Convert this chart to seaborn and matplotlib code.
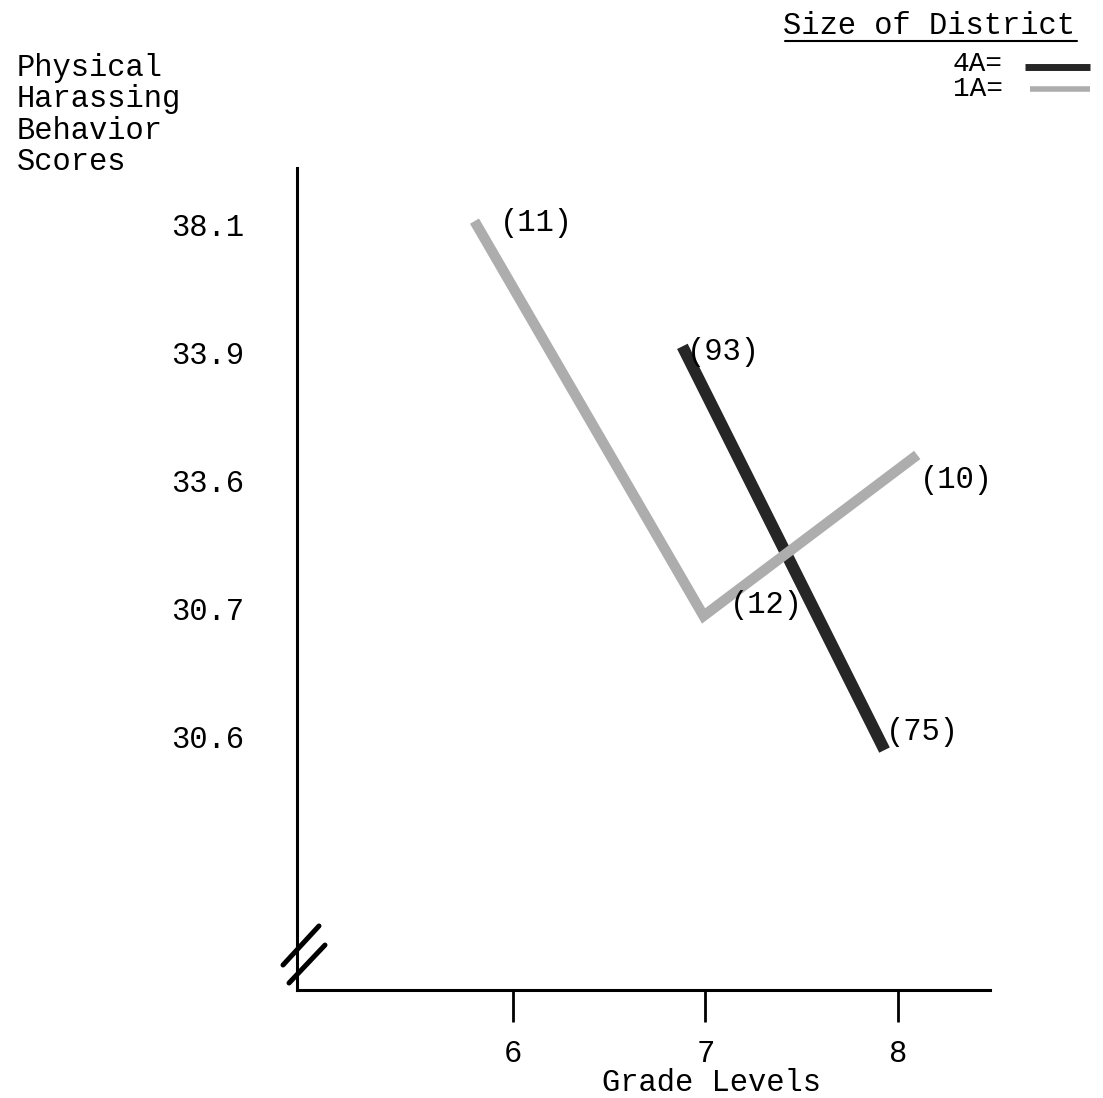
import matplotlib
matplotlib.use("Agg")
import matplotlib.pyplot as plt
from matplotlib.lines import Line2D
import pandas as pd
import seaborn as sns

# y axis is not linear: the printed scores sit at equally spaced levels (bottom to top)
SCORE_LABELS = ["30.6", "30.7", "33.6", "33.9", "38.1"]
GRADE_TICKS = [6, 7, 8]

# 1A districts
GRADE_1A = [5.80, 6.99, 8.10]
LEVEL_1A = [4.03, 0.94, 2.20]
N_1A = ["(11)", "(12)", "(10)"]

# 4A districts
GRADE_4A = [6.88, 7.93]
LEVEL_4A = [3.05, -0.11]
N_4A = ["(93)", "(75)"]

FONT = ["Liberation Mono", "DejaVu Sans Mono"]
COLORS = {"4A": "#262626", "1A": "#adadad"}


def px_fig(x, y):
    return x / 1103, 1 - y / 1098


df = pd.concat(
    [
        pd.DataFrame({"grade": GRADE_4A, "level": LEVEL_4A, "district": "4A"}),
        pd.DataFrame({"grade": GRADE_1A, "level": LEVEL_1A, "district": "1A"}),
    ],
    ignore_index=True,
)

sns.set_theme(style="white")
plt.rcParams["font.family"] = FONT
plt.rcParams["font.size"] = 22

fig = plt.figure(figsize=(11.03, 10.98), dpi=100)
ax = fig.add_axes([297 / 1103, 1 - 990 / 1098, (990 - 297) / 1103, (990 - 168) / 1098])

sns.lineplot(
    data=df,
    x="grade",
    y="level",
    hue="district",
    palette=COLORS,
    size="district",
    sizes={"4A": 8.5, "1A": 7.5},
    sort=False,
    estimator=None,
    legend=False,
    solid_capstyle="butt",
    solid_joinstyle="miter",
    ax=ax,
)

ax.set_xlim(4.878, 8.478)
ax.set_ylim(-1.988, 4.446)
ax.set_xticks(GRADE_TICKS)
ax.set_xticklabels([str(g) for g in GRADE_TICKS])
ax.set_yticks(range(len(SCORE_LABELS)))
ax.set_yticklabels(SCORE_LABELS)
ax.tick_params(axis="x", length=23, width=2, direction="out", pad=12, colors="black", labelsize=22)
ax.tick_params(axis="y", length=0, pad=38, labelsize=22)
ax.xaxis.set_ticks_position("bottom")
for lab in ax.get_xticklabels() + ax.get_yticklabels():
    lab.set_color("black")
ax.set_xlabel("Grade Levels", fontsize=22, color="black", va="center")
ax.xaxis.set_label_coords((712 - 297) / 693, (990 - 1083) / 822)
ax.set_ylabel("")
for side in ["top", "right"]:
    ax.spines[side].set_visible(False)
for side in ["left", "bottom"]:
    ax.spines[side].set_linewidth(2.2)
    ax.spines[side].set_color("black")

# sample sizes next to each point
offsets_1a = [(18, -1), (19, 8), (2, -18)]
offsets_4a = [(3, -4), (1, 13)]
for gx, lv, n, off in zip(GRADE_1A, LEVEL_1A, N_1A, offsets_1a):
    ax.annotate(n, (gx, lv), xytext=off, textcoords="offset points",
                ha="left", va="center", fontsize=22, color="black")
for gx, lv, n, off in zip(GRADE_4A, LEVEL_4A, N_4A, offsets_4a):
    ax.annotate(n, (gx, lv), xytext=off, textcoords="offset points",
                ha="left", va="center", fontsize=22, color="black")

# axis break marks
for (x0, y0), (x1, y1) in [((-0.0202, 0.0304), (0.0317, 0.0779)),
                           ((-0.0115, 0.0085), (0.0404, 0.0547))]:
    ax.add_line(Line2D([x0, x1], [y0, y1], transform=ax.transAxes, color="black",
                       lw=3.6, solid_capstyle="round", clip_on=False))

# y axis title
fig.text(*px_fig(17, 53), "Physical\nHarassing\nBehavior\nScores", ha="left", va="top",
         fontsize=22, linespacing=1.06, color="black")

# legend drawn by hand
fig.text(*px_fig(929, 34), "Size of District", ha="center", va="baseline", fontsize=22, color="black")
fig.add_artist(Line2D([785 / 1103, 1077 / 1103], [1 - 41 / 1098] * 2, color="black", lw=1.5))
fig.text(*px_fig(1003, 64), "4A=", ha="right", va="center", fontsize=20, color="black")
fig.text(*px_fig(1003, 89), "1A=", ha="right", va="center", fontsize=20, color="black")
fig.add_artist(Line2D([1025 / 1103, 1090 / 1103], [1 - 67 / 1098] * 2, color=COLORS["4A"],
                      lw=5, solid_capstyle="butt"))
fig.add_artist(Line2D([1030 / 1103, 1090 / 1103], [1 - 89 / 1098] * 2, color=COLORS["1A"],
                      lw=4, solid_capstyle="butt"))

fig.savefig("out.png", dpi=100, facecolor="white")
plt.close(fig)
